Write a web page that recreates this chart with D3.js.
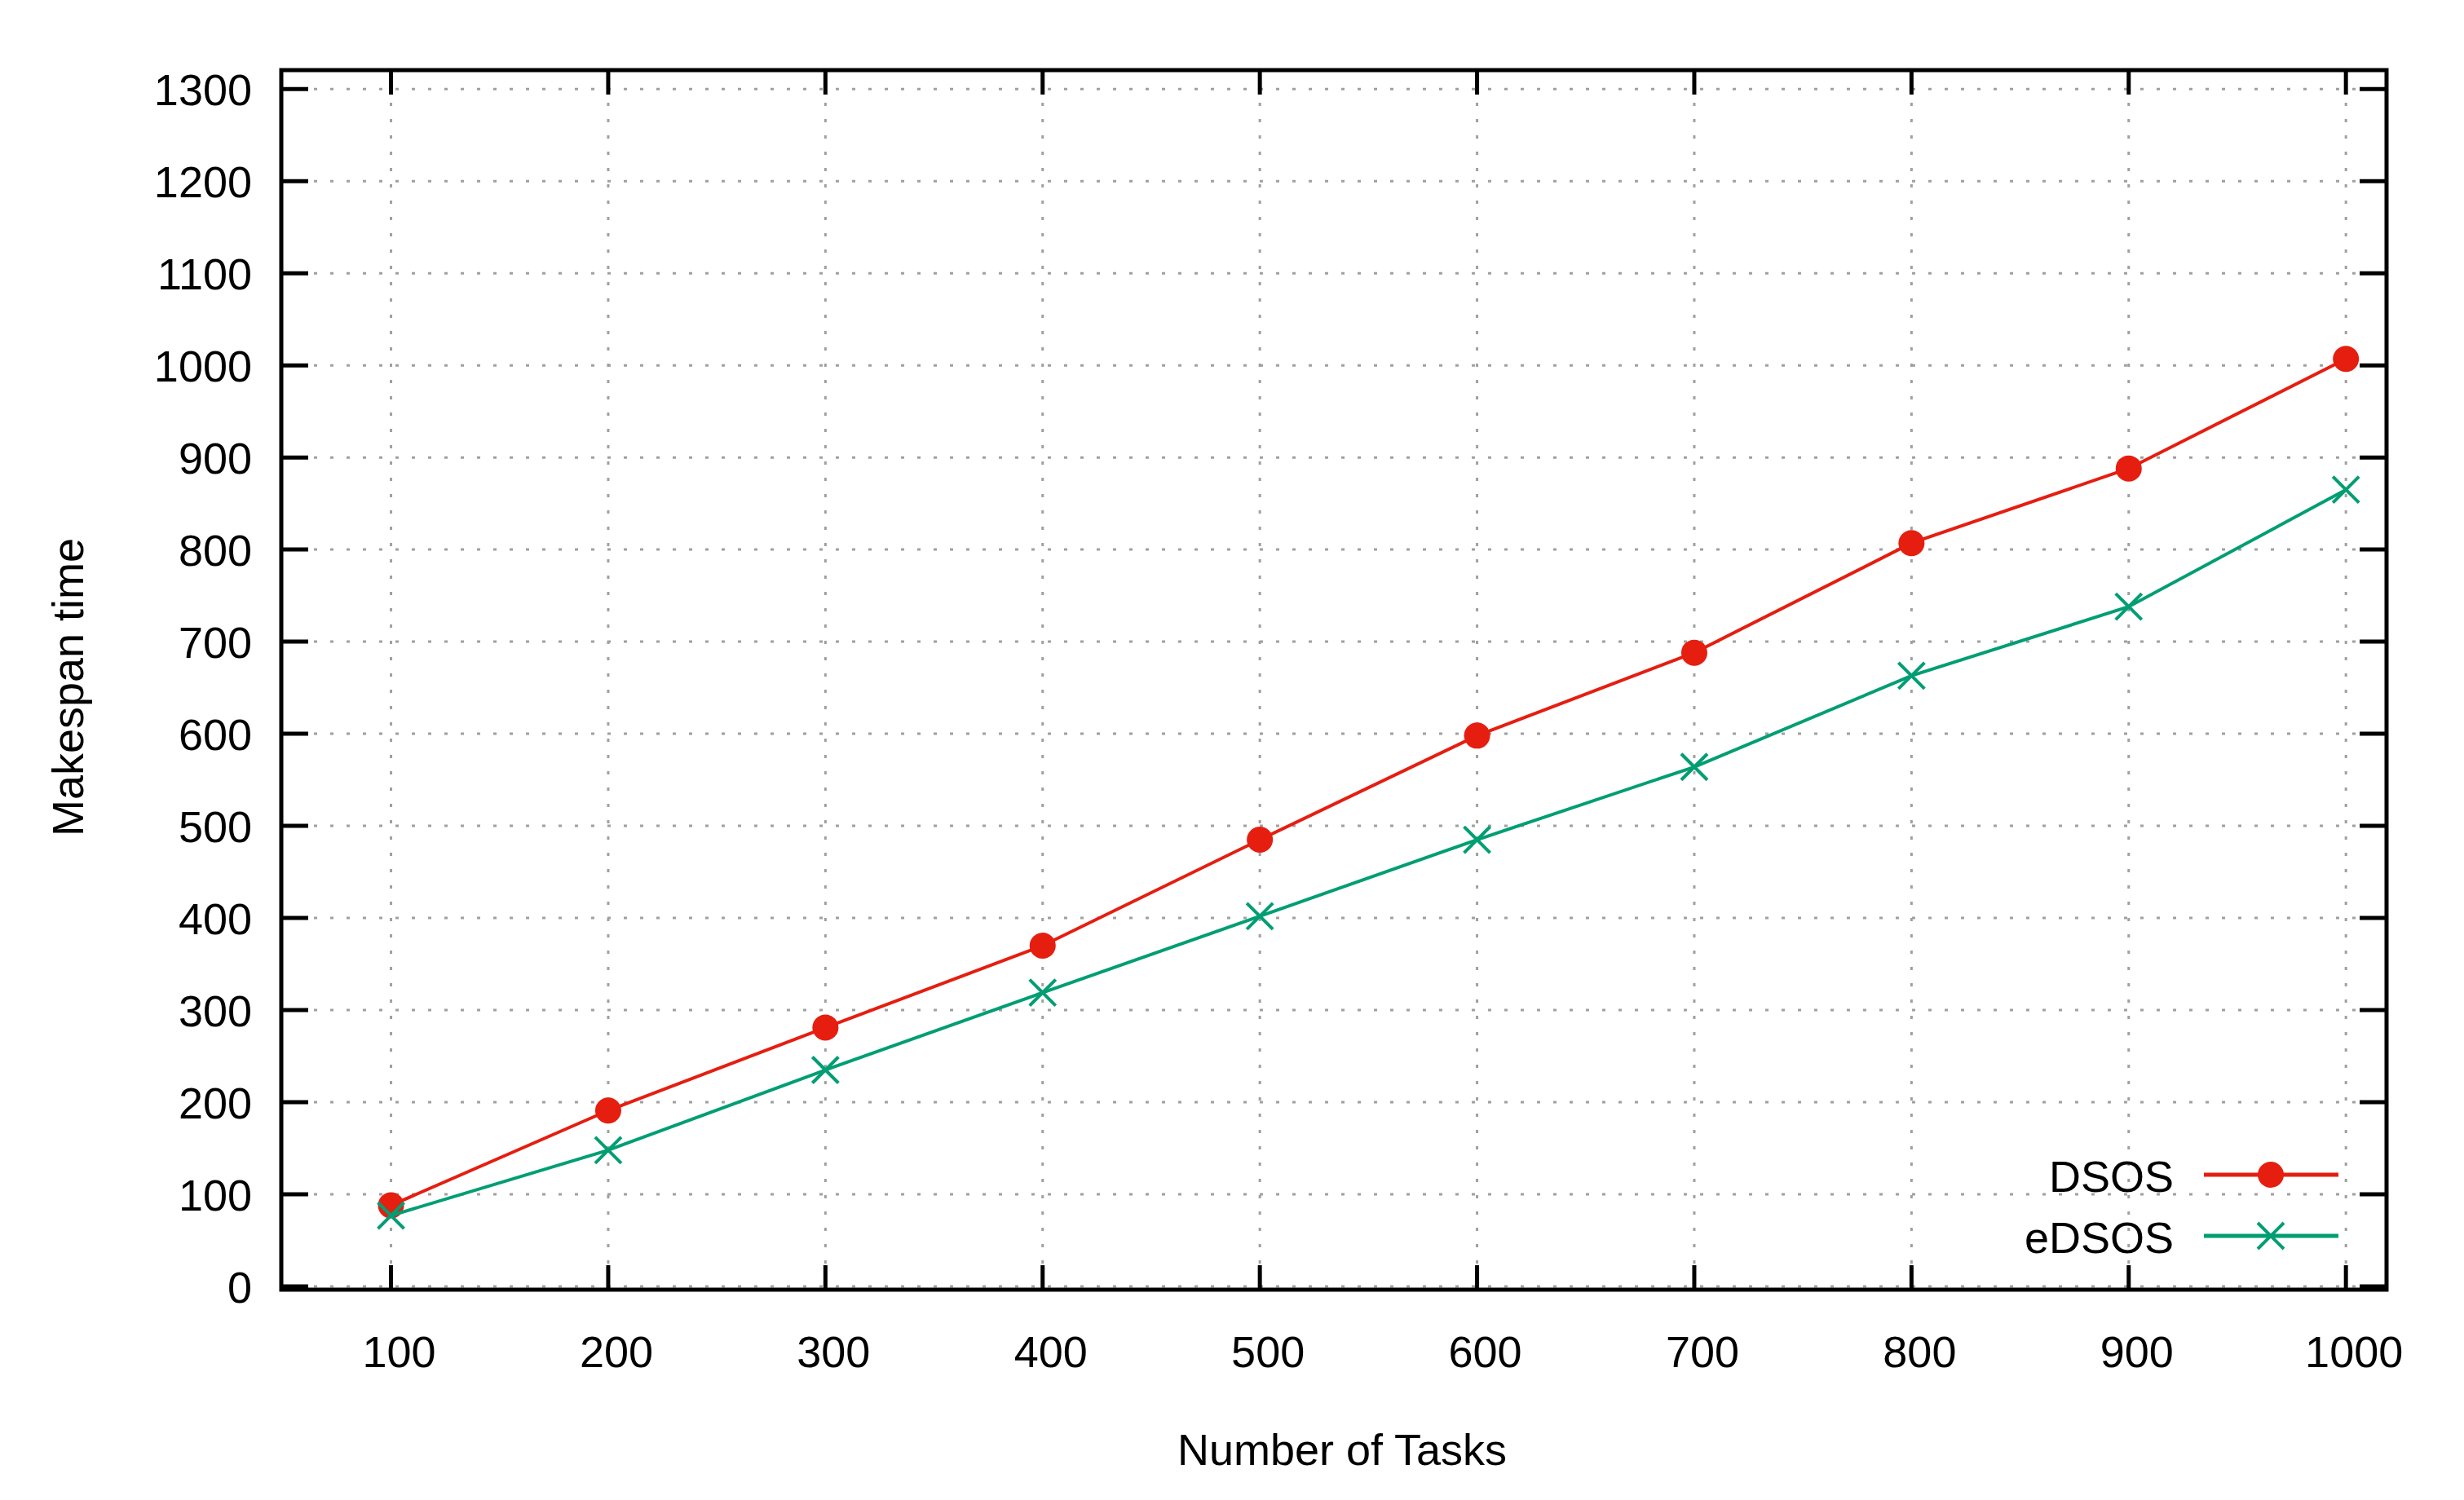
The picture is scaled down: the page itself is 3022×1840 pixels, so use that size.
<!DOCTYPE html>
<html>
<head>
<meta charset="utf-8">
<script src="https://cdn.jsdelivr.net/npm/d3@7"></script>
<style>
  body { margin: 0; background: #fff; }
  text { font-family: "Liberation Sans", Arial, sans-serif; fill: #000; }
</style>
</head>
<body>
<div id="chart"></div>
<script>
// data
const tasks = [100, 200, 300, 400, 500, 600, 700, 800, 900, 1000];
const dsos  = [88, 191, 281, 370, 485, 598, 688, 807, 888, 1007];
const edsos = [77, 148, 235, 319, 402, 485, 564, 663, 738, 865];
const yTicks = [0, 100, 200, 300, 400, 500, 600, 700, 800, 900, 1000, 1100, 1200, 1300];
const seriesNames = ["DSOS", "eDSOS"];

const width = 3022, height = 1840;
const margin = {top: 86, right: 95, bottom: 258, left: 345};
const plotW = width - margin.left - margin.right;
const plotH = height - margin.top - margin.bottom;

let svg = d3.select("#chart").append("svg")
    .attr("width", width)
    .attr("height", height);

let x = d3.scaleLinear().domain([49.5, 1018.7]).range([margin.left, margin.left + plotW]);
let y = d3.scaleLinear().domain([-3.5, 1320.5]).range([margin.top + plotH, margin.top]);

//grid
let grid = svg.append("g").attr("stroke", "#a0a0a0").attr("stroke-width", 3)
    .attr("stroke-dasharray", "4,16");
grid.selectAll(".gx").data(tasks).enter().append("line")
    .attr("x1", d => x(d)).attr("x2", d => x(d))
    .attr("y1", margin.top).attr("y2", margin.top + plotH);
grid.selectAll(".gy").data(yTicks).enter().append("line")
    .attr("y1", d => y(d)).attr("y2", d => y(d))
    .attr("x1", margin.left).attr("x2", margin.left + plotW);

//ticks, mirrored on all sides
let ticks = svg.append("g").attr("stroke", "#000").attr("stroke-width", 5);
ticks.selectAll(".tyl").data(yTicks).enter().append("line")
    .attr("x1", margin.left).attr("x2", margin.left + 33)
    .attr("y1", d => y(d)).attr("y2", d => y(d));
ticks.selectAll(".tyr").data(yTicks).enter().append("line")
    .attr("x1", margin.left + plotW).attr("x2", margin.left + plotW - 33)
    .attr("y1", d => y(d)).attr("y2", d => y(d));
ticks.selectAll(".txb").data(tasks).enter().append("line")
    .attr("x1", d => x(d)).attr("x2", d => x(d))
    .attr("y1", margin.top + plotH).attr("y2", margin.top + plotH - 30);
ticks.selectAll(".txt").data(tasks).enter().append("line")
    .attr("x1", d => x(d)).attr("x2", d => x(d))
    .attr("y1", margin.top).attr("y2", margin.top + 30);

svg.append("rect")
    .attr("x", margin.left).attr("y", margin.top)
    .attr("width", plotW).attr("height", plotH)
    .attr("fill", "none").attr("stroke", "#000").attr("stroke-width", 5);

//tick labels
svg.selectAll(".ylab").data(yTicks).enter().append("text")
    .attr("x", 309).attr("y", d => y(d) + 20)
    .attr("text-anchor", "end").attr("font-size", 54)
    .text(d => d);
svg.selectAll(".xlab").data(tasks).enter().append("text")
    .attr("x", d => x(d) + 10).attr("y", 1677)
    .attr("text-anchor", "middle").attr("font-size", 54)
    .text(d => d);

svg.append("text").attr("x", 1646).attr("y", 1797)
    .attr("text-anchor", "middle").attr("font-size", 54)
    .text("Number of Tasks");
svg.append("text")
    .attr("transform", "translate(102,843) rotate(-90)")
    .attr("text-anchor", "middle").attr("font-size", 54)
    .text("Makespan time");

//series
const colors = ["#e51e10", "#009e73"];
let line = d3.line().x((d, i) => x(tasks[i])).y(d => y(d));

function drawMarker(g, kind, cx, cy, color) {
    if (kind === 0) {
        g.append("circle").attr("cx", cx).attr("cy", cy).attr("r", 16).attr("fill", color);
    } else {
        let s = 16;
        g.append("path")
            .attr("d", `M${cx - s},${cy - s}L${cx + s},${cy + s}M${cx - s},${cy + s}L${cx + s},${cy - s}`)
            .attr("stroke", color).attr("stroke-width", 4).attr("fill", "none");
    }
}

[dsos, edsos].forEach((vals, k) => {
    let g = svg.append("g");
    g.append("path").datum(vals)
        .attr("d", line)
        .attr("fill", "none").attr("stroke", colors[k]).attr("stroke-width", 4);
    vals.forEach((v, i) => drawMarker(g, k, x(tasks[i]), y(v), colors[k]));
});

//legend
const legendY = [1441, 1516];
seriesNames.forEach((name, k) => {
    let g = svg.append("g");
    g.append("text").attr("x", 2666).attr("y", legendY[k] + 21)
        .attr("text-anchor", "end").attr("font-size", 54).text(name);
    g.append("line").attr("x1", 2703).attr("x2", 2868)
        .attr("y1", legendY[k]).attr("y2", legendY[k])
        .attr("stroke", colors[k]).attr("stroke-width", 5);
    drawMarker(g, k, 2785, legendY[k], colors[k]);
});
</script>
</body>
</html>
